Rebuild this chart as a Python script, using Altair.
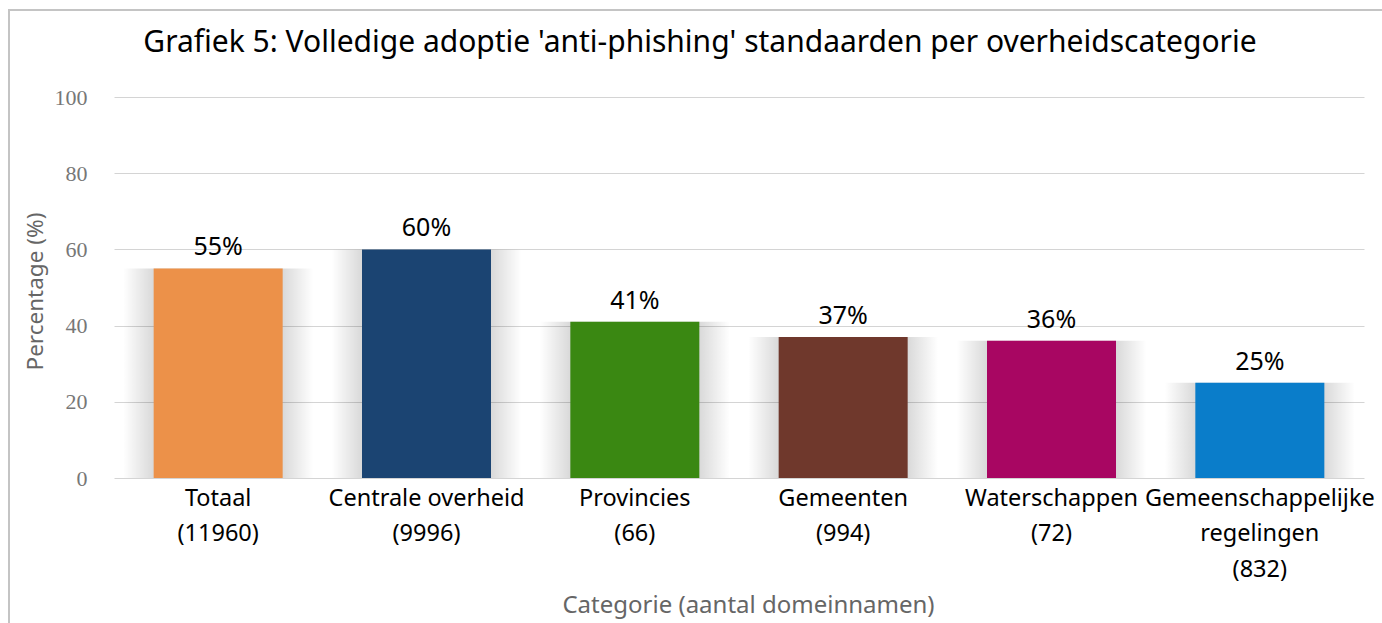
import altair as alt
import pandas as pd

categories = [
    "Totaal|(11960)",
    "Centrale overheid|(9996)",
    "Provincies|(66)",
    "Gemeenten|(994)",
    "Waterschappen|(72)",
    "Gemeenschappelijke|regelingen|(832)",
]
values = [55, 60, 41, 37, 36, 25]
value_labels = ["55%", "60%", "41%", "37%", "36%", "25%"]
colors = ["#EC9149", "#1B4472", "#3A8812", "#6F382C", "#A80662", "#0A7DCA"]

df = pd.DataFrame({"cat": categories, "value": values, "lbl": value_labels})

x_enc = alt.X(
    "cat:N",
    sort=None,
    scale=alt.Scale(paddingInner=0, paddingOuter=0),
    axis=alt.Axis(
        title="Categorie (aantal domeinnamen)",
        labelExpr="split(datum.label, '|')",
        labelFont="Noto Sans",
        labelFontSize=23.5,
        labelColor="#000000",
        labelLineHeight=35.5,
        labelPadding=8,
        labelAngle=0,
        labelLimit=0,
        labelOverlap=False,
        domain=False,
        ticks=False,
        grid=False,
        titleFont="Noto Sans",
        titleFontSize=24,
        titleFontWeight="normal",
        titleColor="#666666",
        titleX=634,
        titleY=134,
        titleAlign="center",
        titleBaseline="alphabetic",
    ),
)

y_enc = alt.Y(
    "value:Q",
    scale=alt.Scale(domain=[0, 100], nice=False),
    axis=alt.Axis(
        values=[0, 20, 40, 60, 80, 100],
        title="Percentage (%)",
        labelFont="Liberation Serif",
        labelFontSize=22,
        labelColor="#777777",
        labelPadding=27,
        domain=False,
        ticks=False,
        gridColor="#d4d4d4",
        gridWidth=1,
        titleFont="Noto Sans",
        titleFontSize=22.5,
        titleFontWeight="normal",
        titleColor="#666666",
        titleX=-79,
        titleY=194,
        titleAlign="center",
        titleBaseline="middle",
    ),
)

base = alt.Chart(df).encode(x=x_enc)

frame_src = alt.Data(values=[{"a": 1}])
border_top = alt.Chart(frame_src).mark_rule(stroke="#c4c4c4", strokeWidth=2).encode(
    x=alt.value(-105), x2=alt.value(1400), y=alt.value(-87)
)
border_left = alt.Chart(frame_src).mark_rule(stroke="#c4c4c4", strokeWidth=2).encode(
    x=alt.value(-105), y=alt.value(-88), y2=alt.value(700)
)

shadow = base.mark_bar(
    size=190,
    fill=alt.LinearGradient(
        gradient="linear",
        x1=0, x2=1, y1=0, y2=0,
        stops=[
            alt.GradientStop(offset=0, color="rgba(0,0,0,0)"),
            alt.GradientStop(offset=0.16, color="rgba(0,0,0,0.15)"),
            alt.GradientStop(offset=0.84, color="rgba(0,0,0,0.15)"),
            alt.GradientStop(offset=1, color="rgba(0,0,0,0)"),
        ],
    ),
).encode(y=alt.Y("value:Q"))

bars = base.mark_bar(size=129).encode(
    y=y_enc,
    color=alt.Color("cat:N", sort=None, scale=alt.Scale(domain=categories, range=colors), legend=None),
)

text = base.mark_text(
    font="Noto Sans", fontSize=25, baseline="alphabetic", dy=-13, color="#000000"
).encode(y=alt.Y("value:Q"), text="lbl:N")

chart = alt.layer(border_top, border_left, shadow, bars, text).properties(
    width=1250,
    height=381,
    autosize="none",
    padding={"left": 114, "top": 97, "right": 18, "bottom": 145},
    title=alt.TitleParams(
        text="Grafiek 5: Volledige adoptie 'anti-phishing' standaarden per overheidscategorie",
        font="Noto Sans",
        fontSize=30,
        fontWeight="normal",
        color="#000000",
        anchor="middle",
        dx=-39,
        dy=50,
        offset=0,
    ),
).configure(background="#ffffff").configure_view(strokeWidth=0)

chart.save("out.html", embed_options={"renderer": "svg", "actions": False})
